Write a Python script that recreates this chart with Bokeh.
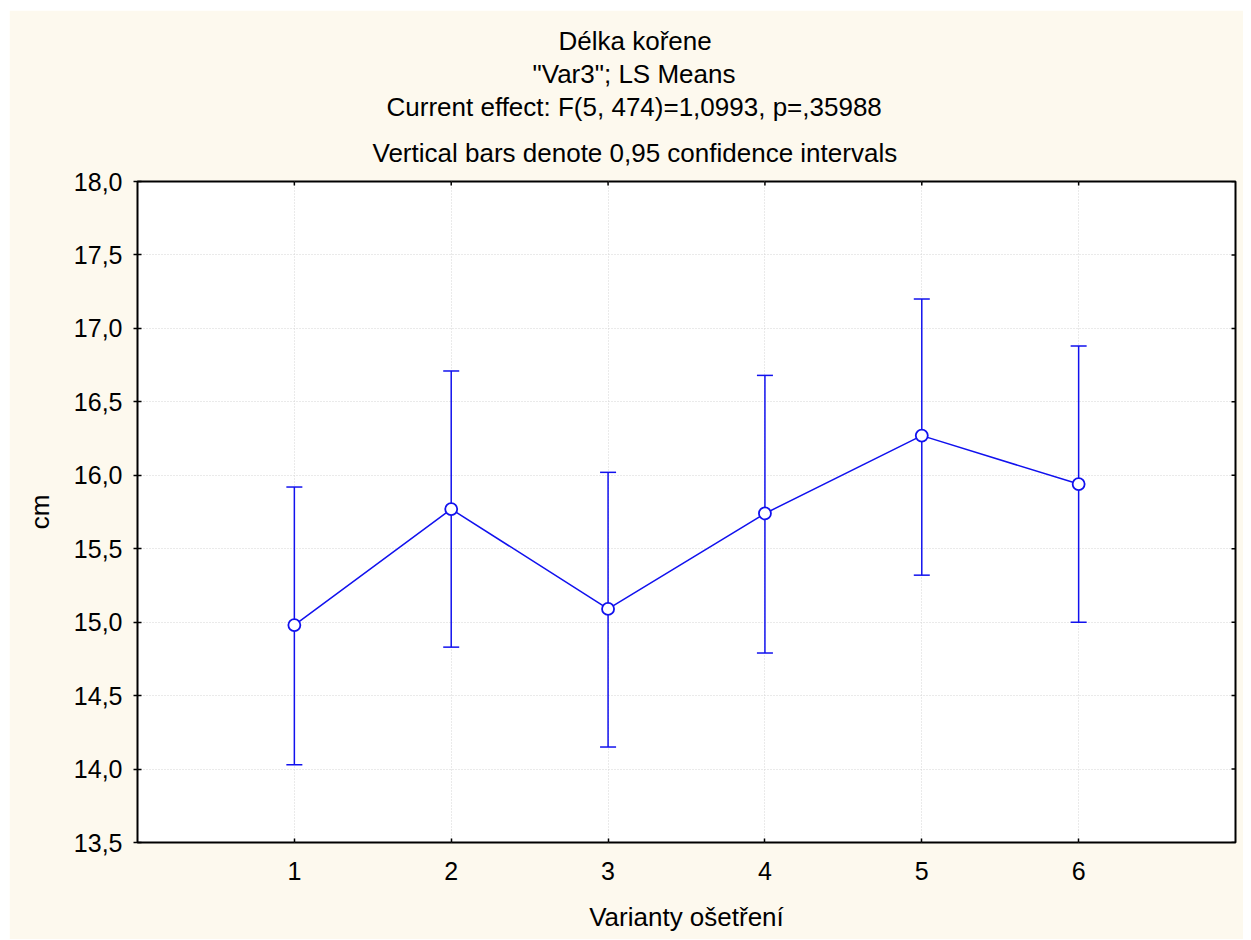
import math
from bokeh.plotting import figure
from bokeh.models import (ColumnDataSource, FixedTicker, CustomJSTickFormatter,
                          Range1d, Title)
from bokeh.embed import file_html
from bokeh.resources import INLINE

# ---- data ----
treatments = [1, 2, 3, 4, 5, 6]
means = [14.98, 15.77, 15.09, 15.74, 16.27, 15.94]
lower = [14.03, 14.83, 14.15, 14.79, 15.32, 15.00]
upper = [15.92, 16.71, 16.02, 16.68, 17.20, 16.88]
y_ticks = [13.5, 14.0, 14.5, 15.0, 15.5, 16.0, 16.5, 17.0, 17.5, 18.0]
x_ticks = [1, 2, 3, 4, 5, 6]
x_limits = [0, 7]
y_limits = [13.5, 18.0]
title_lines = [
    "Délka kořene",
    "\"Var3\"; LS Means",
    "Current effect: F(5, 474)=1,0993, p=,35988",
    "Vertical bars denote 0,95 confidence intervals",
]
x_label = "Varianty ošetření"
y_label = "cm"

FONT = "Liberation Sans"
FS_TICK = "25px"
FS_TEXT = "26px"
BLUE = "#1111EE"
CREAM = "#FDF9EE"

src = ColumnDataSource(dict(x=treatments, m=means, lo=lower, hi=upper))

p = figure(width=1234, height=929, output_backend="svg", toolbar_location=None,
           x_range=Range1d(*x_limits), y_range=Range1d(*y_limits),
           min_border_left=128, min_border_right=8, min_border_top=171,
           min_border_bottom=97, x_axis_label=x_label, y_axis_label=y_label)
p.margin = (10, 0, 0, 9)
p.background_fill_color = "white"
p.border_fill_color = CREAM
p.outline_line_color = "black"
p.outline_line_width = 2

fmt = CustomJSTickFormatter(code="return tick.toFixed(1).replace('.', ',');")

for ax in p.xaxis:
    ax.ticker = FixedTicker(ticks=x_ticks)
    ax.major_tick_in = 4
    ax.major_tick_out = 0
    ax.major_label_standoff = 19
    ax.axis_label_standoff = 19
for ax in p.yaxis:
    ax.ticker = FixedTicker(ticks=y_ticks)
    ax.formatter = fmt
    ax.major_tick_in = 4
    ax.major_tick_out = 4
    ax.major_label_standoff = 11
    ax.axis_label_standoff = 16
for ax in p.xaxis + p.yaxis:
    ax.minor_tick_line_color = None
    ax.axis_line_color = None
    ax.major_tick_line_color = "black"
    ax.major_tick_line_width = 1.5
    ax.major_label_text_font = FONT
    ax.major_label_text_font_size = FS_TICK
    ax.major_label_text_color = "black"
    ax.axis_label_text_font = FONT
    ax.axis_label_text_font_size = FS_TEXT
    ax.axis_label_text_font_style = "normal"
    ax.axis_label_text_color = "black"

p.xgrid.ticker = FixedTicker(ticks=x_ticks)
p.ygrid.ticker = FixedTicker(ticks=y_ticks)
for g in (p.xgrid, p.ygrid):
    g.grid_line_color = "#D4D4D4"
    g.grid_line_dash = "1 2"
    g.grid_line_width = 1

# mirrored inner ticks on top and right edges (half of each dash is clipped by the frame)
p.scatter(x=x_ticks, y=[y_limits[1]] * len(x_ticks), marker="dash", angle=math.pi / 2,
          size=8, line_color="black", line_width=1.5)
p.scatter(x=[x_limits[1]] * len(y_ticks), y=y_ticks, marker="dash",
          size=8, line_color="black", line_width=1.5)

# error bars
p.segment(x0="x", y0="lo", x1="x", y1="hi", source=src, line_color=BLUE, line_width=1.5)
p.scatter(x="x", y="lo", source=src, marker="dash", size=16, line_color=BLUE, line_width=1.5)
p.scatter(x="x", y="hi", source=src, marker="dash", size=16, line_color=BLUE, line_width=1.5)
# means line + markers
p.line(x="x", y="m", source=src, line_color=BLUE, line_width=1.5)
p.scatter(x="x", y="m", source=src, marker="circle", size=12, fill_color="white",
          line_color=BLUE, line_width=1.8)

# title lines: closest to the frame added first; left-aligned with offsets so that
# each line is centred on the whole chart rather than on the plot frame
standoffs = [0, 2, 0, 28]
offsets = [421, 395, 249, 235]
for txt, so, off in reversed(list(zip(title_lines, standoffs, offsets))):
    p.add_layout(Title(text=txt, align="left", offset=off, standoff=so,
                       text_font=FONT, text_font_size=FS_TEXT,
                       text_font_style="normal", text_color="black"), "above")

open("out.html", "w").write(file_html(p, INLINE))
